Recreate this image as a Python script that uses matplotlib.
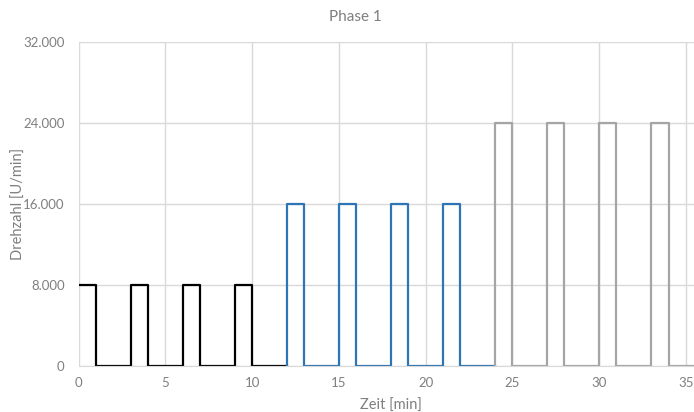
import matplotlib
matplotlib.use("Agg")
import matplotlib.pyplot as plt
from matplotlib.ticker import FuncFormatter

# Phase 1 speed profile, step data (time in min, speed in U/min)
t_black = [0, 1, 3, 4, 6, 7, 9, 10, 12]
n_black = [8000, 0, 8000, 0, 8000, 0, 8000, 0, 0]

t_blue = [12, 12, 13, 15, 16, 18, 19, 21, 22, 24]
n_blue = [0, 16000, 0, 16000, 0, 16000, 0, 16000, 0, 0]

t_gray = [24, 24, 25, 27, 28, 30, 31, 33, 34, 36]
n_gray = [0, 24000, 0, 24000, 0, 24000, 0, 24000, 0, 0]

x_ticks = [0, 5, 10, 15, 20, 25, 30, 35]
y_ticks = [0, 8000, 16000, 24000, 32000]

plt.rcParams['font.family'] = ['Lato', 'DejaVu Sans']
txt = '#7f7f7f'
grid = '#d9d9d9'

fig = plt.figure(figsize=(6.94, 4.12), dpi=100)
ax = fig.add_axes([0.1133, 0.1117, 0.9, 0.7864])

ax.plot(t_black, n_black, drawstyle='steps-post', color='black', lw=1.6)
ax.plot(t_blue, n_blue, drawstyle='steps-post', color='#2e75b6', lw=1.6)
ax.plot(t_gray, n_gray, drawstyle='steps-post', color='#a5a5a5', lw=1.6)

ax.set_xlim(0, 36)
ax.set_ylim(0, 32000)
ax.set_xticks(x_ticks)
ax.set_yticks(y_ticks)
ax.yaxis.set_major_formatter(FuncFormatter(lambda v, p: f"{int(v):,}".replace(",", ".")))

ax.grid(True, color=grid, lw=1)
ax.set_axisbelow(True)
for s in ['top', 'right', 'left']:
    ax.spines[s].set_visible(False)
ax.spines['bottom'].set_color(grid)
ax.tick_params(length=0, colors=txt, labelsize=9.5)
ax.tick_params(axis='x', pad=8)
ax.tick_params(axis='y', pad=10)

ax.set_xlabel('Zeit [min]', color=txt, fontsize=10.5, labelpad=7)
ax.set_ylabel('Drehzahl [U/min]', color=txt, fontsize=10.5, labelpad=-2)
fig.text(0.512, 0.958, 'Phase 1', color=txt, fontsize=11, ha='center', va='center')

fig.savefig('out.png', dpi=100)
